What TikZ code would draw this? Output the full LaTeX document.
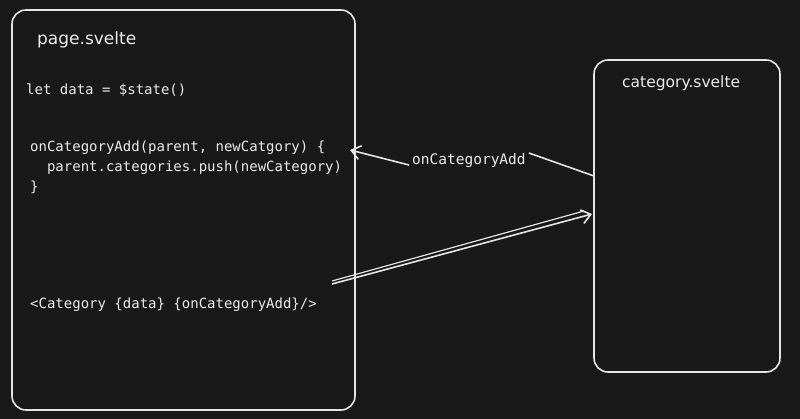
\documentclass[tikz,border=0pt]{standalone}
\usepackage{fontspec}
\setmonofont{DejaVu Sans Mono}
\setmainfont{DejaVu Sans}
\usetikzlibrary{arrows.meta}
\begin{document}
\begin{tikzpicture}[x=1pt,y=-1pt,
  box/.style={draw=white!90!black,line width=1.6pt,rounded corners=14pt},
  code/.style={text=white!92!black,font=\ttfamily\fontsize{14}{17}\selectfont,anchor=west,inner sep=0},
  title/.style={text=white!92!black,font=\fontsize{17}{20}\selectfont,anchor=west,inner sep=0},
  conn/.style={draw=white!90!black,line width=1.6pt,-{Straight Barb[length=9pt,width=14pt]}}]
\fill[black!90!white] (0,0) rectangle (800,419);
\useasboundingbox (0,0) rectangle (800,419);
\draw[box] (12,10) rectangle (355,410);
\draw[box] (594,60) rectangle (780,372);
\node[title] (t1) at (37,40) {page.svelte};
\node[code] (l1) at (26,90) {let data = \$state()};
\node[code] (l2) at (30,148) {onCategoryAdd(parent, newCatgory) \{};
\node[code] (l3) at (30,168) {~~parent.categories.push(newCategory)};
\node[code] (l4) at (30,187) {\}};
\node[code] (l5) at (30,305) {<Category \{data\} \{onCategoryAdd\}/>};
\node[title,font=\fontsize{15.5}{18}\selectfont] (t2) at (622,83) {category.svelte};
\node[code,font=\ttfamily\fontsize{14.5}{17}\selectfont] (lab) at (412,161) {onCategoryAdd};
\coordinate (a1) at (594,176);
\coordinate (a2) at (350,150);
\coordinate (b1) at (332,284);
\coordinate (b2) at (592,214);
\draw[draw=white!90!black,line width=1.6pt] (a1) -- ([xshift=3pt,yshift=8pt]lab.east);
\draw[conn] ([xshift=-3pt,yshift=-4pt]lab.west) -- (a2);
\draw[conn] (b1) -- (b2);
\draw[draw=white!90!black,line width=1.2pt] ([yshift=3]b1) -- ([yshift=3,xshift=-8]b2);
\end{tikzpicture}
\end{document}
